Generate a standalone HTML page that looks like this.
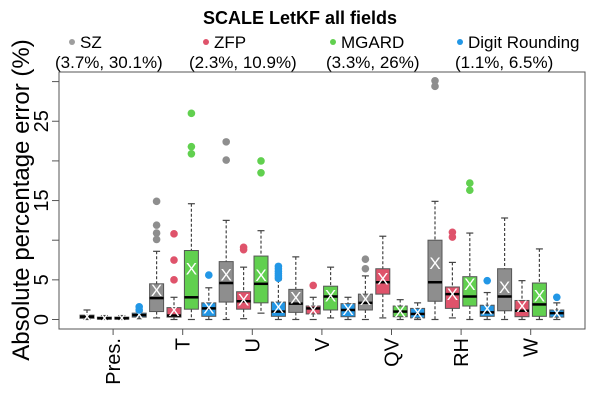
<!DOCTYPE html>
<html><head><meta charset="utf-8"><style>
body{margin:0;background:#fff}
svg{display:block;font-family:"Liberation Sans",Arial,sans-serif}
</style></head><body>
<svg id="c" width="600" height="400">
<text x="300" y="24" text-anchor="middle" font-weight="bold" font-size="18">SCALE LetKF all fields</text>
<g>
<g><circle cx="72" cy="42" r="3" fill="#9E9E9E"/><text x="80" y="48" font-size="17">SZ</text><text x="55" y="68" font-size="17">(3.7%, 30.1%)</text></g>
<g><circle cx="206" cy="42" r="3" fill="#DF536B"/><text x="214" y="48" font-size="17">ZFP</text><text x="189" y="68" font-size="17">(2.3%, 10.9%)</text></g>
<g><circle cx="333" cy="42" r="3" fill="#61D04F"/><text x="341" y="48" font-size="17">MGARD</text><text x="326" y="68" font-size="17">(3.3%, 26%)</text></g>
<g><circle cx="460" cy="42" r="3" fill="#2297E6"/><text x="468" y="48" font-size="17">Digit Rounding</text><text x="455" y="68" font-size="17">(1.1%, 6.5%)</text></g>
</g>
<text transform="translate(29,200) rotate(-90)" text-anchor="middle" font-size="24">Absolute percentage error (%)</text>
<rect x="59" y="72" width="526" height="257" fill="none" stroke="#555" stroke-width="1"/>
<g id="g"></g>
</svg>
<script>
const categories=["Pres.","T","U","V","QV","RH","W"];
const methods=["SZ","ZFP","MGARD","Digit Rounding"];
const colors=["#8E8E8E","#DF536B","#61D04F","#2297E6"];
const yTicks=[0,5,10,15,20,25,30];
const yTickLabels=["0","5","","15","","25",""];
// per box: [whiskerLo, q1, median, q3, whiskerHi, mean]
const stats=[
[0,0.15,0.35,0.55,1.2,0.35],[0,0.05,0.15,0.3,0.5,0.2],[0,0.05,0.15,0.3,0.5,0.2],[0.1,0.3,0.55,0.8,1.0,0.6],
[0.2,1.0,2.7,4.5,8.6,3.7],[0,0.3,0.5,1.5,2.8,1.2],[0,1.3,2.8,8.7,14.6,6.4],[0,0.4,1.4,2.1,4.0,1.5],
[0,2.2,4.6,7.3,12.5,5.7],[0.1,1.3,2.3,3.5,6.6,2.5],[0.8,2.1,4.5,8.0,11.2,5.6],[0,0.4,1.0,2.2,5.0,1.6],
[0,0.9,2.0,3.8,7.9,2.8],[0,0.7,1.4,1.7,2.8,1.2],[0.2,1.2,2.9,4.2,6.6,3.0],[0,0.35,1.2,2.0,2.8,1.3],
[0,1.2,2.1,3.2,5.5,2.6],[0.2,3.2,4.7,6.4,10.5,5.2],[0,0.35,1.0,1.7,2.5,1.1],[0,0.2,0.7,1.4,2.1,0.9],
[0,2.3,4.7,10.0,14.9,7.1],[0.2,1.4,3.2,4.1,7.2,3.2],[0,1.7,2.9,5.4,10.9,4.5],[0,0.4,0.9,1.8,3.4,1.4],
[0,1.1,2.9,6.4,12.8,4.1],[0,0.35,1.1,2.4,4.9,1.7],[0,0.4,1.9,4.6,8.9,3.0],[0,0.3,0.8,1.2,2.1,0.8]];
const outliers=[
[],[],[],[1.2,1.6],
[14.9,11.9,10.9,10.1],[10.8,7.5,5.0],[26,21.8,20.9],[5.6],
[22.4,20.1],[8.8,9.1],[20,18.5],[5.2,5.5,5.8,6.1,6.4,6.7],
[],[4.3],[],[],
[7.6,6.4],[],[],[],
[30.1,29.4],[11.0,10.4],[17.2,16.3],[4.9],
[],[],[],[2.8]];
const NS="http://www.w3.org/2000/svg";
const g=document.getElementById('g');
const y=v=>319.5-v*7.93;
const x=i=>87+i*17.4;
function mk(t,a,p){const e=document.createElementNS(NS,t);for(const k in a)e.setAttribute(k,a[k]);(p||g).appendChild(e);return e;}
yTicks.forEach((t,i)=>{
 const tk=mk('line',{x1:52,x2:59,y1:y(t),y2:y(t),stroke:'#555'});
 
 
 if(yTickLabels[i]){const l=mk('text',{transform:`translate(48,${y(t)}) rotate(-90)`,'text-anchor':'middle','font-size':20});l.textContent=yTickLabels[i];
 
 }
});
categories.forEach((c,k)=>{
 const cx=(x(4*k+1)+x(4*k+2))/2;
 const tk=mk('line',{x1:cx,x2:cx,y1:329,y2:335,stroke:'#555'});
 
 
 const l=mk('text',{transform:`translate(${cx+7},338) rotate(-90)`,'text-anchor':'end','font-size':20});l.textContent=c;
 
 
});
stats.forEach((s,i)=>{
 const cx=x(i),col=colors[i%4],w=7;
 const grp=mk('g',{});
 
 
 mk('line',{x1:cx,x2:cx,y1:y(s[4]),y2:y(s[3]),stroke:'#444','stroke-dasharray':'3,2','stroke-width':1.2},grp);
 mk('line',{x1:cx,x2:cx,y1:y(s[1]),y2:y(s[0]),stroke:'#444','stroke-dasharray':'3,2','stroke-width':1.2},grp);
 mk('line',{x1:cx-3.5,x2:cx+3.5,y1:y(s[4]),y2:y(s[4]),stroke:'#444','stroke-width':1.2},grp);
 mk('line',{x1:cx-3.5,x2:cx+3.5,y1:y(s[0]),y2:y(s[0]),stroke:'#444','stroke-width':1.2},grp);
 mk('rect',{x:cx-w,y:y(s[3]),width:2*w,height:Math.max(1,y(s[1])-y(s[3])),fill:col,stroke:'#555'},grp);
 mk('line',{x1:cx-w,x2:cx+w,y1:y(s[2]),y2:y(s[2]),stroke:'#000','stroke-width':2.5},grp);
 const m=mk('text',{x:cx,y:y(s[5])+6,'text-anchor':'middle','font-size':17,fill:'#fff'},grp);m.textContent='X';
 outliers[i].forEach(o=>{const c=mk('circle',{cx:cx,cy:y(o),r:3.8,fill:col},grp);
  
  });
});
</script>
</body></html>
